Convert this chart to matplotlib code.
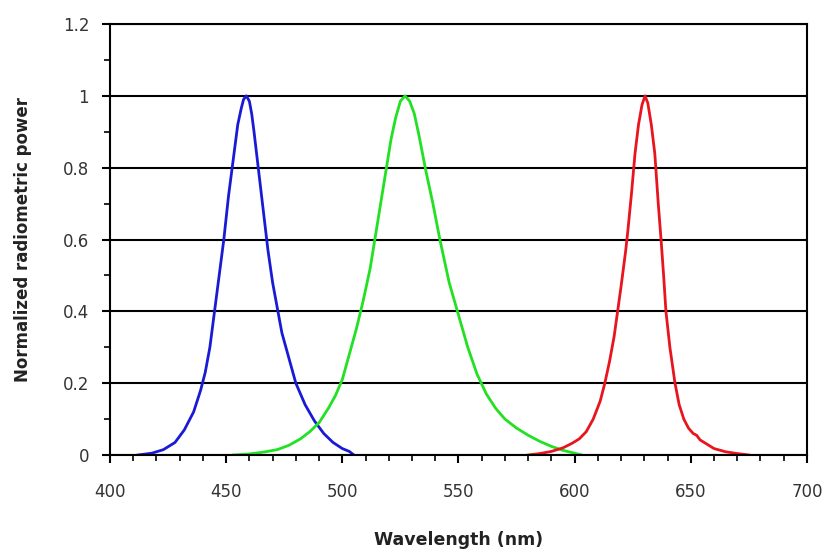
import matplotlib
matplotlib.use("Agg")
import matplotlib.pyplot as plt
from matplotlib.ticker import MultipleLocator

# spectra (wavelength nm, normalized power)
blue_wl = [412, 418, 423, 428, 432, 436, 439, 441, 443, 445, 447, 449, 451, 453, 455, 456.5, 457.5,
           458.7, 460, 461, 462, 464, 466, 468, 470, 472, 474, 477, 480, 484, 488, 492, 496, 500, 503, 505]
blue_val = [0, 0.005, 0.015, 0.035, 0.07, 0.12, 0.18, 0.23, 0.3, 0.4, 0.5, 0.6, 0.72, 0.82, 0.92, 0.965, 0.99,
            1.0, 0.985, 0.95, 0.9, 0.79, 0.68, 0.57, 0.48, 0.41, 0.34, 0.27, 0.2, 0.14, 0.095, 0.06, 0.035,
            0.018, 0.01, 0]

green_wl = [453, 460, 466, 472, 477, 482, 486, 490, 494, 497, 500, 503, 506, 509, 512, 515, 518, 521, 523,
            525, 527, 529, 531, 533, 536, 539, 542, 546, 550, 554, 558, 562, 566, 570, 575, 580, 585, 590,
            595, 600, 603]
green_val = [0, 0.003, 0.008, 0.015, 0.027, 0.045, 0.065, 0.09, 0.13, 0.165, 0.21, 0.28, 0.35, 0.43, 0.52, 0.64,
             0.76, 0.88, 0.94, 0.985, 1.0, 0.985, 0.95, 0.89, 0.79, 0.7, 0.6, 0.48, 0.39, 0.3, 0.225, 0.17,
             0.13, 0.1, 0.075, 0.055, 0.038, 0.024, 0.013, 0.005, 0]

red_wl = [580, 585, 590, 595, 599, 602, 605, 608, 611, 613, 615, 617, 618.5, 620, 622, 623, 624.5, 626,
          627.5, 629, 630.3, 631.5, 633, 634.5, 636, 637.2, 638.3, 639.3, 641, 643.2, 645, 647, 649, 651,
          652.5, 654, 657, 660, 665, 670, 675]
red_val = [0, 0.004, 0.01, 0.02, 0.033, 0.045, 0.065, 0.1, 0.15, 0.2, 0.26, 0.33, 0.4, 0.47, 0.57, 0.63, 0.73,
           0.84, 0.92, 0.975, 1.0, 0.98, 0.92, 0.84, 0.7, 0.6, 0.5, 0.4, 0.3, 0.2, 0.14, 0.1, 0.075, 0.06,
           0.055, 0.042, 0.03, 0.018, 0.009, 0.004, 0]

ytick_vals = [0, 0.2, 0.4, 0.6, 0.8, 1.0, 1.2]
ytick_text = ["0", "0.2", "0.4", "0.6", "0.8", "1", "1.2"]

fig = plt.figure(figsize=(8.37, 5.52), dpi=100)
ax = fig.add_axes([0.1314, 0.1757, 0.8327, 0.7808])

ax.plot(blue_wl, blue_val, color="#1a1ad6", lw=2)
ax.plot(green_wl, green_val, color="#22e022", lw=2)
ax.plot(red_wl, red_val, color="#e8141e", lw=2)

ax.set_xlim(400, 700)
ax.set_ylim(0, 1.2)
ax.xaxis.set_major_locator(MultipleLocator(50))
ax.xaxis.set_minor_locator(MultipleLocator(10))
ax.set_yticks(ytick_vals)
ax.set_yticklabels(ytick_text)
ax.yaxis.set_minor_locator(MultipleLocator(0.1))
ax.grid(axis="y", which="major", color="black", lw=1.5)
ax.set_axisbelow(True)

ax.tick_params(which="major", direction="out", length=6, width=1.5, labelsize=12,
               colors="black", labelcolor="#333333")
ax.tick_params(axis="x", which="major", pad=14)
ax.tick_params(axis="y", which="major", pad=9)
ax.tick_params(which="minor", direction="out", length=4, width=1.2)
for s in ax.spines.values():
    s.set_linewidth(1.5)

ax.set_xlabel("Wavelength (nm)", fontsize=12.5, fontweight="bold", labelpad=22, color="#222222")
ax.set_ylabel("Normalized radiometric power", fontsize=12, fontweight="bold", labelpad=22, color="#222222")

fig.savefig("out.png", dpi=100)
